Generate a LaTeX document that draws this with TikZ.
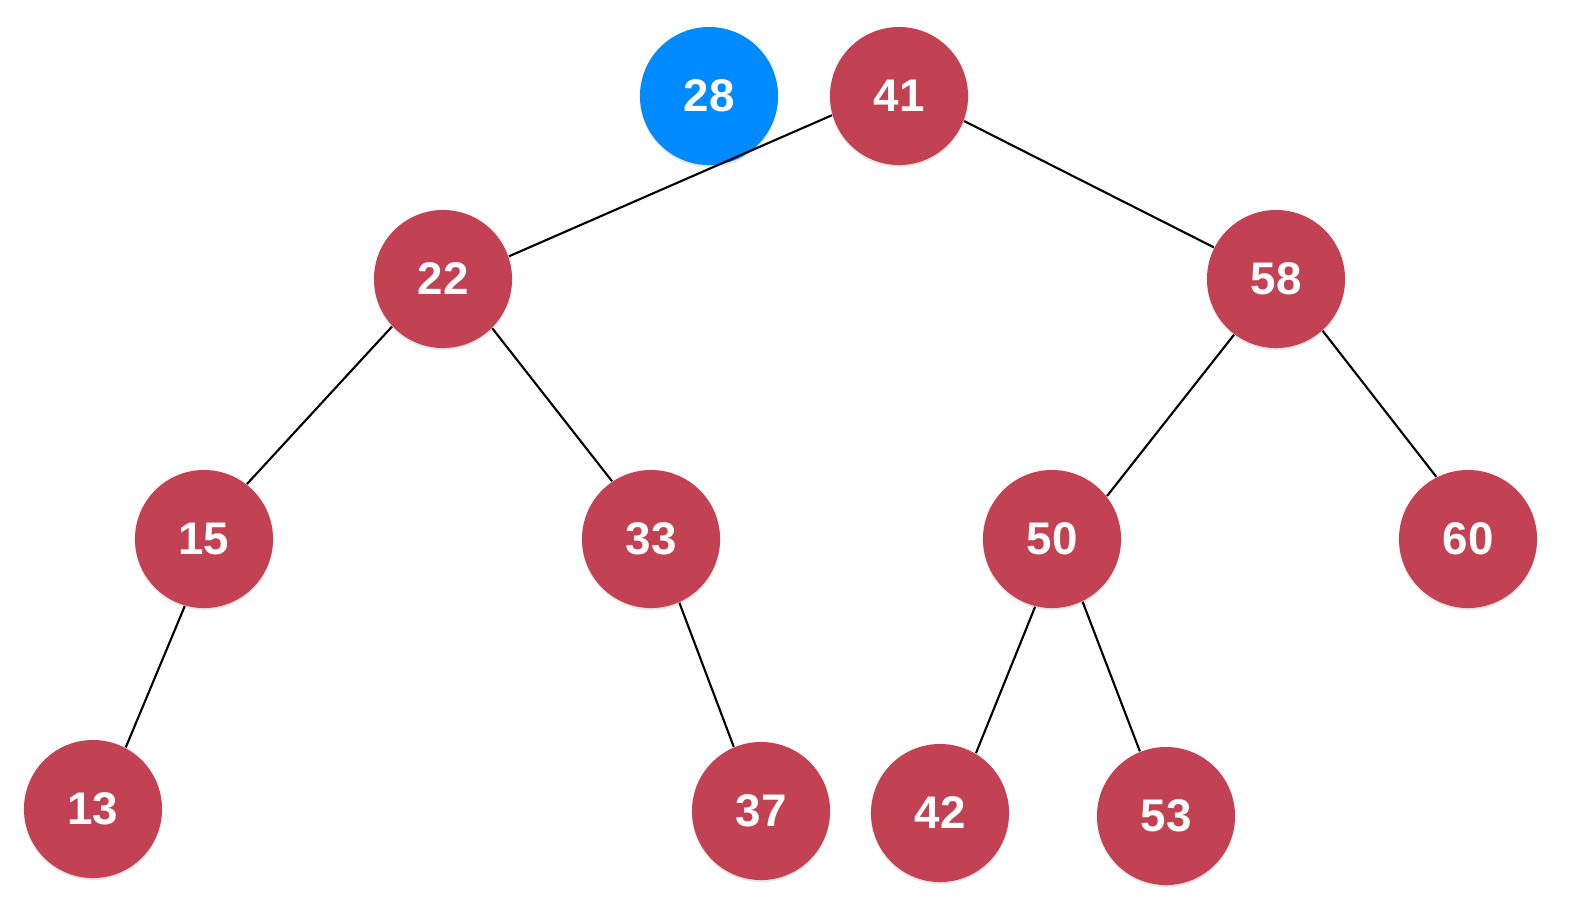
\documentclass[tikz,border=0pt]{standalone}
\usepackage{fontspec}
\setmainfont{Liberation Sans}
\usepackage{tikz}
\usetikzlibrary{shadows}
\definecolor{keyred}{HTML}{C24152}
\definecolor{keyblue}{HTML}{008AFF}

\begin{document}
\begin{tikzpicture}[x=0.01cm,y=-0.01cm,
  key/.style={circle,fill=keyred,minimum size=1.38cm,inner sep=0pt,text=white,
    font=\fontsize{13}{15}\selectfont\bfseries,
    drop shadow={shadow xshift=0pt,shadow yshift=-0.6pt,opacity=0.2}},
  newkey/.style={key,fill=keyblue,drop shadow={opacity=0}},
  edge/.style={line width=0.6pt}]
 \useasboundingbox (0,0) rectangle (1591,905);
 \node[newkey] (n28) at (709,96) {28};
 \node[key] (n41) at (899,96) {41};
 \node[key] (n22) at (443,279) {22};
 \node[key] (n58) at (1276,279) {58};
 \node[key] (n15) at (204,539) {15};
 \node[key] (n33) at (651,539) {33};
 \node[key] (n50) at (1052,539) {50};
 \node[key] (n60) at (1468,539) {60};
 \node[key] (n13) at (93,809) {13};
 \node[key] (n37) at (761,811) {37};
 \node[key] (n42) at (940,813) {42};
 \node[key] (n53) at (1166,816) {53};
 \draw[edge] (n41.196)--(n22.19);
 \draw[edge] (n41.339)--(n58.153);
 \draw[edge] (n22.223)--(n15.52);
 \draw[edge] (n22.315)--(n33.124);
 \draw[edge] (n15.254)--(n13.62);
 \draw[edge] (n33.294)--(n37.113);
 \draw[edge] (n58.233)--(n50.38);
 \draw[edge] (n58.312)--(n60.117);
 \draw[edge] (n50.256)--(n42.59);
 \draw[edge] (n50.296)--(n53.112);
\end{tikzpicture}
\end{document}
